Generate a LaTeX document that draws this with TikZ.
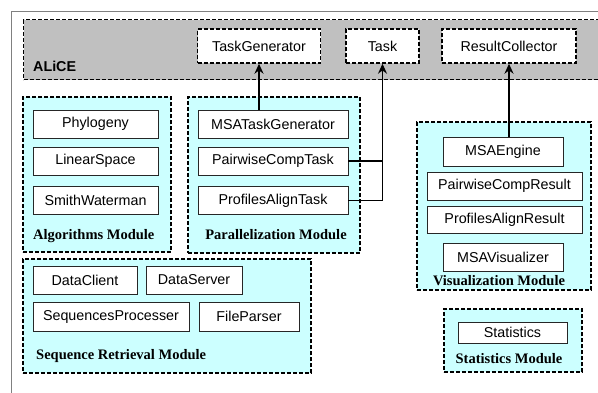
\documentclass[tikz,border=0pt]{standalone}
\usepackage{fontspec}
\setmainfont{Liberation Serif}
\setsansfont{Liberation Sans}
\usetikzlibrary{arrows.meta}
\definecolor{modcyan}{HTML}{CCFFFF}
\definecolor{bandgray}{HTML}{C0C0C0}
\definecolor{framegray}{HTML}{808080}
\tikzset{
  dashedbox/.style={draw=black, line width=1.4pt, dash pattern=on 4pt off 2pt, inner sep=0pt},
  modbox/.style={dashedbox, fill=modcyan},
  topbox/.style={dashedbox, fill=white, font=\sffamily\fontsize{14.3}{17}\selectfont},
  classbox/.style={draw=black!85, line width=0.8pt, fill=white, inner sep=0pt, font=\sffamily\fontsize{14.3}{17}\selectfont},
  modlabel/.style={font=\rmfamily\bfseries\fontsize{14.5}{17}\selectfont, inner sep=0pt},
  conn/.style={draw=black, line width=1.4pt},
  arr/.style={conn, -{Stealth[length=10pt,width=9pt]}}
}
\begin{document}
\begin{tikzpicture}[x=1pt,y=-1pt]
\clip (0,0) rectangle (598,392);
\useasboundingbox (0,0) rectangle (598,392);
% outer frame
\draw[framegray, line width=1pt] (11,11) rectangle (640,420);
% ALiCE band
\node[dashedbox, fill=bandgray, minimum width=600pt, minimum height=60pt, anchor=north west] (alice) at (23,19) {};
\node[font=\sffamily\bfseries\fontsize{14.3}{17}\selectfont, anchor=west, inner sep=0pt] (alicelabel) at (33,66) {ALiCE};
\node[topbox, minimum width=123pt, minimum height=34pt] (tg) at (259,46) {TaskGenerator};
\node[topbox, minimum width=73pt, minimum height=34pt] (task) at (382.5,46) {Task};
\node[topbox, minimum width=134pt, minimum height=34pt] (rc) at (509,46) {ResultCollector};
% Algorithms module
\node[modbox, minimum width=148pt, minimum height=155pt] (algmod) at (97,174.5) {};
\node[classbox, minimum width=125pt, minimum height=28pt] (phy) at (95.5,124) {Phylogeny};
\node[classbox, minimum width=125pt, minimum height=28pt] (lin) at (95.5,161) {LinearSpace};
\node[classbox, minimum width=125pt, minimum height=28pt] (sw) at (95.5,200.5) {SmithWaterman};
\node[modlabel, anchor=west] (alglabel) at (33,236) {Algorithms Module};
% Parallelization module
\node[modbox, minimum width=172pt, minimum height=156pt] (parmod) at (274,175) {};
\node[classbox, minimum width=150pt, minimum height=28pt] (msatg) at (273,124.5) {MSATaskGenerator};
\node[classbox, minimum width=150pt, minimum height=28pt] (pct) at (273,161) {PairwiseCompTask};
\node[classbox, minimum width=150pt, minimum height=28pt] (pat) at (273,200.5) {ProfilesAlignTask};
\node[modlabel] (parlabel) at (276,235) {Parallelization Module};
% Visualization module
\node[modbox, minimum width=174pt, minimum height=168pt] (vismod) at (504,206) {};
\node[classbox, minimum width=120pt, minimum height=29pt] (eng) at (503,151.5) {MSAEngine};
\node[classbox, minimum width=155pt, minimum height=28pt] (pcr) at (504.5,186) {PairwiseCompResult};
\node[classbox, minimum width=155pt, minimum height=27pt] (par) at (504.5,219.5) {ProfilesAlignResult};
\node[classbox, minimum width=120pt, minimum height=28pt] (msav) at (503,257.5) {MSAVisualizer};
\node[modlabel] (vislabel) at (499,280.5) {Visualization Module};
% Sequence Retrieval module
\node[modbox, minimum width=288pt, minimum height=114pt] (seqmod) at (167,316) {};
\node[classbox, minimum width=104pt, minimum height=28pt] (dc) at (85,280) {DataClient};
\node[classbox, minimum width=96pt, minimum height=28pt] (ds) at (194,280) {DataServer};
\node[classbox, minimum width=156pt, minimum height=29pt] (sp) at (111,316.5) {SequencesProcesser};
\node[classbox, minimum width=100pt, minimum height=29pt] (fp) at (249,316.5) {FileParser};
\node[modlabel, anchor=west] (seqlabel) at (36,356) {Sequence Retrieval Module};
% Statistics module
\node[modbox, minimum width=138pt, minimum height=63pt] (statmod) at (513,340.5) {};
\node[classbox, minimum width=109pt, minimum height=21pt] (stat) at (512.5,332.5) {Statistics};
\node[modlabel] (statlabel) at (509,359) {Statistics Module};
% connectors
\draw[arr] (tg.south |- msatg.north) -- (tg.south);
\coordinate (junc) at (pct.east -| task.south);
\draw[conn] (pct.east) -- (junc);
\draw[arr] (pat.east) -| (task.south);
\draw[arr] (rc.south |- eng.north) -- (rc.south);
\end{tikzpicture}
\end{document}
